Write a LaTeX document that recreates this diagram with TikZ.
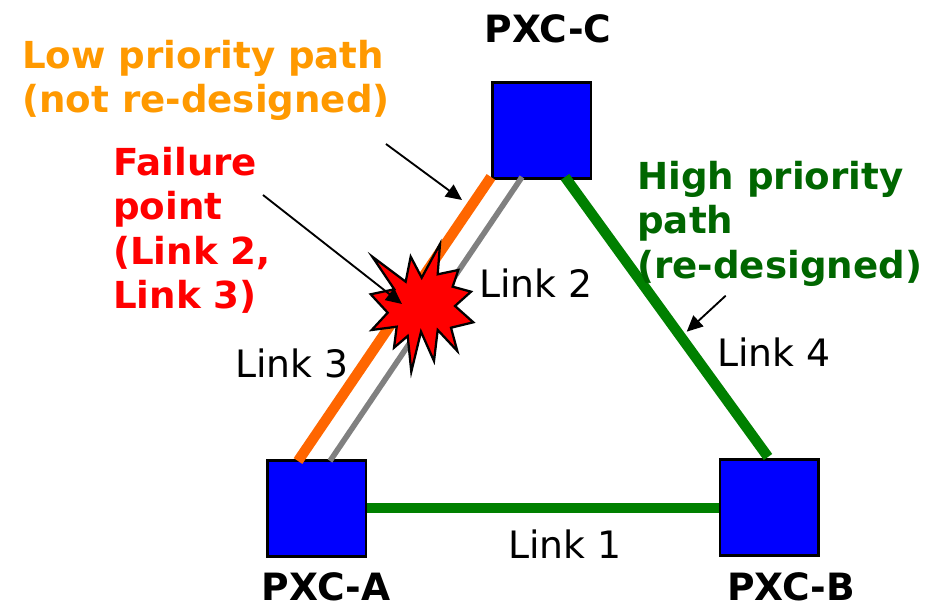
\documentclass[tikz,border=0pt]{standalone}
\usepackage{fontspec}
\setmainfont{DejaVu Sans}
\usetikzlibrary{arrows.meta}
\definecolor{lowor}{RGB}{255,153,0}
\definecolor{linkor}{RGB}{255,102,0}
\definecolor{hig}{RGB}{0,128,0}
\definecolor{higtext}{RGB}{0,102,0}
\definecolor{sqblue}{RGB}{0,0,255}
\tikzset{
  pxc/.style={draw=black,fill=sqblue,line width=2pt,minimum width=74pt,minimum height=72pt,inner sep=0pt,anchor=north west},
  title/.style={font=\fontsize{28.2}{32}\selectfont\bfseries,inner sep=0pt,anchor=base},
  lab/.style={font=\fontsize{28.3}{32}\selectfont,inner sep=0pt,anchor=base west},
  multi/.style={font=\fontsize{27.9}{33.2}\selectfont\bfseries,inner sep=0pt,align=left,anchor=north west},
  hp/.style={line width=7.8pt,draw=hig},
  lp/.style={line width=7.8pt,draw=linkor},
  gp/.style={line width=4.2pt,draw=black!50},
  call/.style={draw=black,line width=1.4pt,-{Triangle[length=12pt,width=11pt]}}
}
\begin{document}
\begin{tikzpicture}[x=0.75pt,y=-0.75pt]
\useasboundingbox (0,0) rectangle (936,605);
\node[pxc] (C) at (491,81) {};
\node[pxc] (A) at (266,459.3) {};
\node[pxc] (B) at (718.5,458) {};
\coordinate (orC) at (491,177);
\coordinate (orA) at (298,461);
\coordinate (grC) at (522,177);
\coordinate (grA) at (330,461);
\coordinate (grC2) at (565,177);
\coordinate (grB) at (768,457);
\draw[gp] (grA) -- (grC);
\draw[lp] (orA) -- (orC);
\draw[hp] (grC2) -- (grB);
\draw[hp] (A.east |- 0,508) -- (B.west |- 0,508);
\node[title] (tC) at (548,43) {PXC-C};
\node[title] (tA) at (326,601) {PXC-A};
\node[title] (tB) at (791,601) {PXC-B};
\node[multi,text=lowor] (low) at (22,40) {Low priority path\\(not re-designed)};
\node[multi,text=red] (fail) at (113,147) {Failure\\point\\(Link 2,\\Link 3)};
\node[multi,text=higtext] (high) at (637,161) {High priority\\path\\(re-designed)};
\node[lab] (l1) at (508,559) {Link 1};
\node[lab] (l2) at (479,298) {Link 2};
\node[lab] (l3) at (235,378) {Link 3};
\node[lab] (l4) at (717,367) {Link 4};
\draw[black,line width=1.7pt,fill=red,line join=miter,miter limit=10]
 (372.3,256.7) -- (405.7,281.7) -- (410.7,256.7) -- (421.7,277.7) -- (440,244) -- (437.7,274.3) -- (458.3,270) -- (452.7,286.7) -- (471,291.7) -- (455,306) -- (473.3,322.3) -- (451,327.7) -- (457.3,351) -- (437.7,330) -- (434,361) -- (421,331.7) -- (411.3,371.7) -- (407.7,336) -- (394,347.7) -- (396.7,326.7) -- (371.7,330) -- (387.7,312.7) -- (370.7,294.3) -- (394.3,289.3) -- cycle;
\coordinate (a1s) at (386,144);
\coordinate (a1e) at (462,200);
\coordinate (a2s) at (263,195);
\coordinate (a2e) at (402,304);
\coordinate (a3s) at (725.7,295.7);
\coordinate (a3e) at (686.7,331.7);
\draw[call] (a1s) -- (a1e);
\draw[call] (a2s) -- (a2e);
\draw[call] (a3s) -- (a3e);
\end{tikzpicture}
\end{document}
